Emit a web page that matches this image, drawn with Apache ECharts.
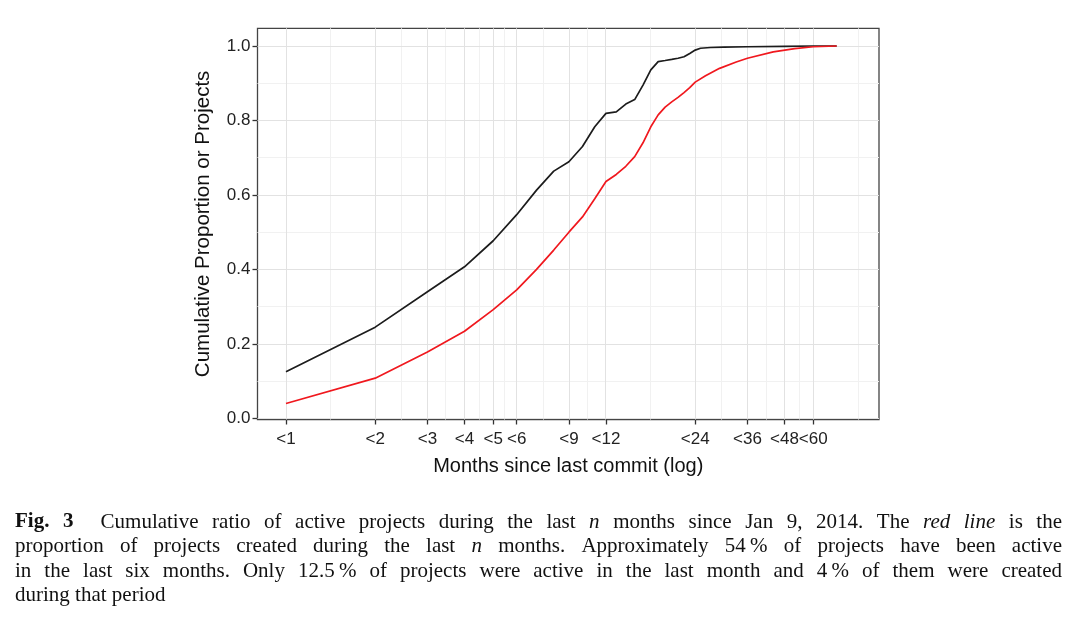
<!DOCTYPE html>
<html><head><meta charset="utf-8">
<script src="https://cdn.jsdelivr.net/npm/echarts@6/dist/echarts.min.js"></script>
<style>html,body{margin:0;padding:0;background:#fff}#c{width:1080px;height:632px}</style>
</head><body><div id="c"></div>
<script>
// ---- data ----
const tickMonths = [1, 2, 3, 4, 5, 6, 9, 12, 24, 36, 48, 60];
const yTicks = [0, 0.2, 0.4, 0.6, 0.8, 1.0];
const yMinor = [0.1, 0.3, 0.5, 0.7, 0.9];

const activeMonths = [1,2,3,4,5,6,7,8,9,10,11,12,13,14,15,16,17,18,19,20,21,22,23,24,25,27,30,36,48,60,72];
const activeValues = [0.125,0.245,0.340,0.407,0.477,0.547,0.613,0.664,0.689,0.730,0.783,0.819,0.823,0.844,0.856,0.895,0.936,0.958,0.961,0.964,0.967,0.971,0.980,0.989,0.994,0.996,0.997,0.998,0.999,1.0,1.0];

const createdMonths = [1,2,3,4,5,6,7,8,9,10,11,12,13,14,15,16,17,18,19,20,21,22,23,24,26,29,33,36,44,52,60,72];
const createdValues = [0.040,0.108,0.178,0.234,0.292,0.345,0.400,0.452,0.500,0.541,0.590,0.636,0.655,0.677,0.703,0.740,0.783,0.815,0.836,0.850,0.862,0.875,0.888,0.903,0.920,0.940,0.957,0.967,0.984,0.993,0.998,1.0];

const xTitle = 'Months since last commit (log)';
const yTitle = 'Cumulative Proportion or Projects';

const captionLines = [
  [['Fig.','b'],['3','b',2],['Cumulative'],['ratio'],['of'],['active'],['projects'],['during'],['the'],['last'],['n','i'],['months'],['since'],['Jan'],['9,'],['2014.'],['The'],['red','i'],['line','i'],['is'],['the']],
  [['proportion'],['of'],['projects'],['created'],['during'],['the'],['last'],['n','i'],['months.'],['Approximately'],['54\u2009%'],['of'],['projects'],['have'],['been'],['active']],
  [['in'],['the'],['last'],['six'],['months.'],['Only'],['12.5\u2009%'],['of'],['projects'],['were'],['active'],['in'],['the'],['last'],['month'],['and'],['4\u2009%'],['of'],['them'],['were'],['created']],
  [['during'],['that'],['period']]
];

// ---- build ----
const L = Math.log2;
const majorX = tickMonths.map(L);
const ext = majorX.concat([majorX[majorX.length - 1] + (majorX[1] - majorX[0])]);
const minorX = [];
for (let i = 0; i < ext.length - 1; i++) minorX.push((ext[i] + ext[i + 1]) / 2);

const activeData = activeMonths.map((m, i) => [L(m), activeValues[i]]);
const createdData = createdMonths.map((m, i) => [L(m), createdValues[i]]);

const gridMajor = { color: '#e2e2e2', width: 1, type: 'solid' };
const gridMinor = { color: '#f1f1f1', width: 1, type: 'solid' };
function ml(axis, vals, style) {
  return vals.map(v => ({ [axis]: v, lineStyle: style }));
}

// caption layout (justified)
const capFontSize = 21;
const capLeft = 15, capRight = 1062;
const capY = [522, 546.5, 571, 595.5];
const cv = document.createElement('canvas').getContext('2d');
function fontOf(s) {
  return (s === 'i' ? 'italic ' : '') + (s === 'b' ? 'bold ' : '') + capFontSize + 'px "Liberation Serif", "Times New Roman", serif';
}
const graphics = [];
captionLines.forEach((line, li) => {
  const widths = line.map(t => { cv.font = fontOf(t[1]); return cv.measureText(t[0]).width; });
  cv.font = fontOf();
  const sp = cv.measureText(' ').width;
  let weights = 0;
  for (let i = 0; i < line.length - 1; i++) weights += (line[i][2] || 1);
  const total = widths.reduce((a, b) => a + b, 0);
  const last = li === captionLines.length - 1;
  const gap = last ? sp : (capRight - capLeft - total) / weights;
  let x = capLeft;
  line.forEach((t, i) => {
    graphics.push({
      type: 'text', x: x, y: capY[li], silent: true,
      style: { text: t[0], font: fontOf(t[1]), fill: '#111', verticalAlign: 'middle', align: 'left' }
    });
    x += widths[i] + gap * (t[2] || 1);
  });
});

const sans = '"Liberation Sans", Arial, Helvetica, sans-serif';
const chart = echarts.init(document.getElementById('c'), null, { renderer: 'canvas' });
chart.setOption({
  animation: false,
  backgroundColor: '#fff',
  grid: { left: 257.5, right: 201, top: 28.3, bottom: 212.5, show: true, borderColor: '#444', borderWidth: 1.3, backgroundColor: 'transparent' },
  xAxis: {
    type: 'value', min: -0.319, max: 6.644,
    name: xTitle, nameLocation: 'middle', nameGap: 37,
    nameTextStyle: { fontFamily: sans, fontSize: 20, color: '#111' },
    axisLine: { show: false, onZero: false },
    splitLine: { show: false },
    axisTick: { show: true, length: 5, lineStyle: { color: '#333', width: 1.3 }, customValues: majorX },
    axisLabel: { customValues: majorX, margin: 11, fontFamily: sans, fontSize: 17, color: '#222',
      formatter: v => '<' + Math.round(Math.pow(2, v)) }
  },
  yAxis: {
    type: 'value', min: -0.003, max: 1.0475,
    name: yTitle, nameLocation: 'middle', nameGap: 44, nameRotate: 90,
    nameTextStyle: { fontFamily: sans, fontSize: 20.5, color: '#111' },
    axisLine: { show: false, onZero: false },
    splitLine: { show: false },
    axisTick: { show: true, length: 5, lineStyle: { color: '#333', width: 1.3 }, customValues: yTicks },
    axisLabel: { customValues: yTicks, margin: 7, fontFamily: sans, fontSize: 17, color: '#222',
      formatter: v => v.toFixed(1) }
  },
  graphic: graphics,
  series: [
    {
      type: 'line', data: [], z: 0, silent: true,
      markLine: {
        z: 1, silent: true, symbol: 'none', label: { show: false }, animation: false,
        data: [].concat(ml('xAxis', minorX, gridMinor), ml('yAxis', yMinor, gridMinor),
                        ml('xAxis', majorX, gridMajor), ml('yAxis', yTicks, gridMajor))
      }
    },
    { name: 'active', type: 'line', data: activeData, showSymbol: false, z: 3,
      lineStyle: { color: '#1c1c1c', width: 1.7 } },
    { name: 'created', type: 'line', data: createdData, showSymbol: false, z: 4,
      lineStyle: { color: '#f0181e', width: 1.7 } }
  ]
});
</script></body></html>
